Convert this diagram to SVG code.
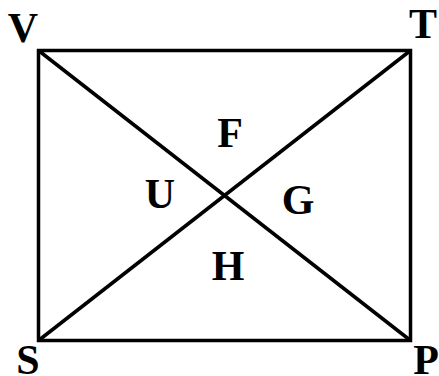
<svg xmlns="http://www.w3.org/2000/svg" width="439" height="376" viewBox="0 0 439 376">
<style>
.l{font-family:"Liberation Serif","Times New Roman",serif;font-weight:bold;font-size:42px;fill:#000;text-anchor:middle}
.e{stroke:#000;stroke-width:3.5;fill:none}
</style>
<rect width="439" height="376" fill="#fff"/>
<g id="connectors">
<rect class="e" x="38.5" y="50.5" width="372" height="290"/>
<line class="e" x1="38.5" y1="50.5" x2="410.5" y2="340.5"/>
<line class="e" x1="410.5" y1="50.5" x2="38.5" y2="340.5"/>
</g>
<g id="V"><text class="l" x="23" y="42">V</text></g>
<g id="T"><text class="l" x="423" y="38">T</text></g>
<g id="S"><text class="l" x="28" y="374">S</text></g>
<g id="P"><text class="l" x="426" y="374">P</text></g>
<g id="F"><text class="l" x="230" y="147">F</text></g>
<g id="U"><text class="l" x="160" y="208">U</text></g>
<g id="G"><text class="l" x="298" y="214">G</text></g>
<g id="H"><text class="l" x="228" y="280">H</text></g>
</svg>
